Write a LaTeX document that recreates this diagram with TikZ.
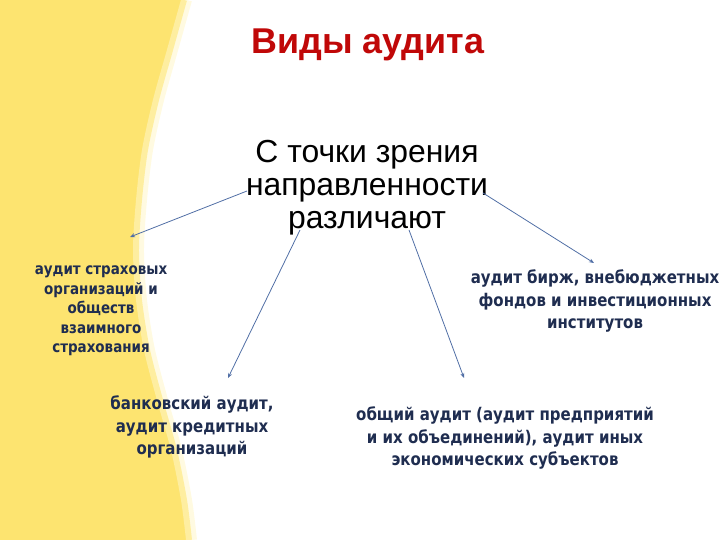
\documentclass[tikz,border=0pt]{standalone}
\usepackage{fontspec}
\setmainfont{Liberation Sans}
\newfontfamily\vfont[FakeStretch=0.86]{DejaVu Sans}
\usetikzlibrary{arrows.meta}
\definecolor{band}{RGB}{253,228,112}
\definecolor{bandlight}{RGB}{254,238,160}
\definecolor{bandpale}{RGB}{255,247,205}
\definecolor{titlered}{RGB}{192,8,8}
\definecolor{navy}{RGB}{31,45,80}
\definecolor{arrowblue}{RGB}{80,110,165}
\tikzset{
  titletext/.style={font=\fontsize{36}{40}\selectfont\bfseries, text=titlered, inner sep=0pt},
  subtext/.style={font=\fontsize{32}{33}\selectfont, text=black, align=center, inner sep=0pt},
  leaftext/.style={font=\vfont\bfseries\fontsize{17.5}{22.5}\selectfont, text=navy, align=center, inner sep=0pt},
  smallleaf/.style={font=\vfont\bfseries\fontsize{15.7}{19.5}\selectfont, text=navy, align=center, inner sep=0pt},
  link/.style={draw=arrowblue, line width=0.8pt, -{Stealth[length=5pt,width=4pt]}},
  edgeline/.style={line join=round}
}
\begin{document}
\begin{tikzpicture}[x=1bp,y=-1bp]
\useasboundingbox (0,0) rectangle (720,540);
% yellow band
\fill[band] (0,0) -- plot[smooth] coordinates {(185,0) (171,50) (157,100) (146,150) (140,200) (137,250) (140,300) (148,350) (161,400) (175,450) (185,500) (190,540)}
  -- (0,540) -- cycle;
\draw[edgeline, bandpale, line width=10pt, opacity=0.6] plot[smooth] coordinates {(187,0) (173,50) (159,100) (148,150) (142,200) (139,250) (142,300) (150,350) (163,400) (177,450) (187,500) (192,540)};
\draw[edgeline, bandlight, line width=6pt] plot[smooth] coordinates {(184,0) (170,50) (156,100) (145,150) (139,200) (136,250) (139,300) (147,350) (160,400) (174,450) (184,500) (189,540)};
% texts
\node[titletext] (title) at (368,45) {Виды аудита};
\node[subtext] (sub) at (367,188) {С точки зрения\\направленности\\различают};
\node[smallleaf] (ins) at (101,311) {аудит страховых\\организаций и\\обществ\\взаимного\\страхования};
\node[leaftext] (exch) at (595,301) {аудит бирж, внебюджетных\\фондов и инвестиционных\\институтов};
\node[leaftext] (bank) at (192,427) {банковский аудит,\\аудит кредитных\\организаций};
\node[leaftext] (gen) at (505,438) {общий аудит (аудит предприятий\\и их объединений), аудит иных\\экономических субъектов};
% arrow ends
\coordinate (s1) at (247,191);
\coordinate (e1) at (130,237);
\coordinate (s2) at (300,230);
\coordinate (e2) at (228,378);
\coordinate (s3) at (409,230);
\coordinate (e3) at (464,378);
\coordinate (s4) at (483,193);
\coordinate (e4) at (594,263);
\draw[link] (s1) -- (e1);
\draw[link] (s2) -- (e2);
\draw[link] (s3) -- (e3);
\draw[link] (s4) -- (e4);
\end{tikzpicture}
\end{document}
